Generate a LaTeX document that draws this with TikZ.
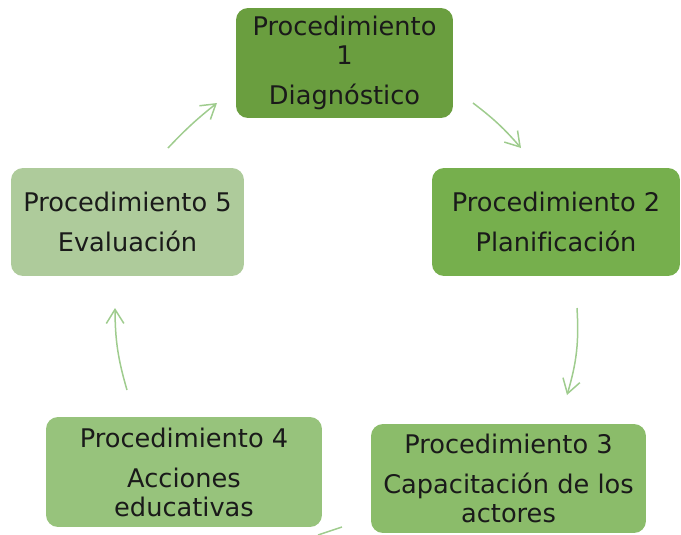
\documentclass[tikz,border=0pt]{standalone}
\usepackage{fontspec}
\setmainfont[Ligatures=NoCommon]{DejaVu Sans}
\usepackage{xcolor}
\usetikzlibrary{arrows.meta}

\definecolor{procA}{HTML}{6A9E3F}
\definecolor{procB}{HTML}{76AF4D}
\definecolor{procC}{HTML}{8BBC6A}
\definecolor{procD}{HTML}{97C37C}
\definecolor{procE}{HTML}{AECB9B}
\definecolor{arrowgreen}{HTML}{9FCC8E}
\definecolor{textdark}{HTML}{1A1A1A}

\begin{document}
\begin{tikzpicture}[x=0.02cm,y=-0.02cm]
			\tikzstyle{proc} = [rounded corners=6.8pt, inner sep=0pt, align=center, text=textdark, font=\fontsize{14.6}{16.5}\selectfont]
			\tikzset{edge/.style = {draw=arrowgreen, line width=0.85pt, -{Straight Barb[length=8pt,width=10pt]}}}
			
			\useasboundingbox (0,0) rectangle (681,535);
			
			\node[proc, fill=procA, minimum width=4.34cm, minimum height=2.2cm](proc1) at (344.5,63) {Procedimiento\\1\\[6.3pt]Diagnóstico};
			\node[proc, fill=procB, minimum width=4.96cm, minimum height=2.16cm](proc2) at (556,222) {Procedimiento 2\\[6.3pt]Planificación};
			\node[proc, fill=procC, minimum width=5.5cm, minimum height=2.18cm](proc3) at (508.5,478.5) {Procedimiento 3\\[6.3pt]Capacitación de los\\actores};
			\node[proc, fill=procD, minimum width=5.52cm, minimum height=2.2cm](proc4) at (184,472) {Procedimiento 4\\[6.3pt]Acciones\\educativas};
			\node[proc, fill=procE, minimum width=4.66cm, minimum height=2.16cm](proc5) at (127.5,222) {Procedimiento 5\\[6.3pt]Evaluación};
			
			\coordinate (from1) at (473,103);
			\coordinate (to2) at (521,148);
			\coordinate (from2) at (577,308);
			\coordinate (to3) at (567,395);
			\coordinate (from3) at (342,527);
			\coordinate (to4) at (318,535);
			\coordinate (from4) at (127,390);
			\coordinate (to5) at (115,308);
			\coordinate (from5) at (168,148);
			\coordinate (to1) at (217,103);
			
			\draw[edge](from1) to[bend left=6] (to2);
			\draw[edge](from2) to[bend left=10] (to3);
			\draw[edge, -](from3) to (to4);
			\draw[edge](from4) to[bend left=8] (to5);
			\draw[edge](from5) to[bend left=4] (to1);
			
\end{tikzpicture}
\end{document}
